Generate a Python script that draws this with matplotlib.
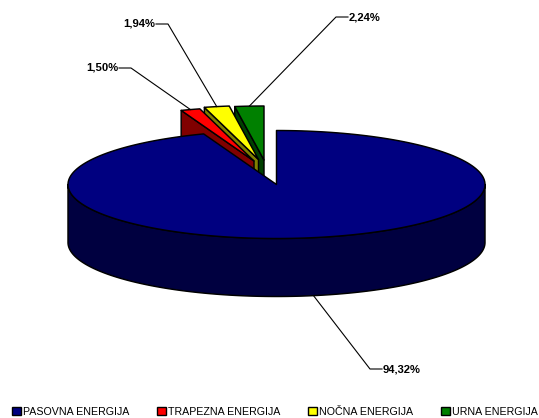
import numpy as np
import matplotlib
matplotlib.use("Agg")
import matplotlib.pyplot as plt
from matplotlib.patches import Polygon, Patch

categories = ["PASOVNA ENERGIJA", "TRAPEZNA ENERGIJA", "NOČNA ENERGIJA", "URNA ENERGIJA"]
values = [94.32, 1.50, 1.94, 2.24]
labels = ["94,32%", "1,50%", "1,94%", "2,24%"]
top_colors = ["#000080", "#FF0000", "#FFFF00", "#008000"]
side_colors = ["#000040", "#800000", "#808000", "#004000"]

# layout of the pseudo-3D pie, in pixels
W, H = 539, 418
CX, CY, RX, RY, DEPTH = 276.5, 184.5, 208.5, 54, 58
offsets = [(0, 0), (-22.5, -23.5), (-18, -25), (-12.5, -24.5)]
label_pos = [(383, 369), (118, 68), (155, 24), (349, 17)]
elbow_dir = [-1, 1, 1, -1]

plt.rcParams["font.family"] = ["Liberation Sans", "DejaVu Sans"]
fig = plt.figure(figsize=(W / 100, H / 100), dpi=100)
ax = fig.add_axes([0, 0, 1, 1])
ax.set_xlim(0, W)
ax.set_ylim(H, 0)
ax.axis("off")

shares = np.array(values) / sum(values) * 360
ends = np.cumsum(shares)
starts = ends - shares


def arc(a0, a1, cx, cy, n=200):
    t = np.radians(np.linspace(a0, a1, n))
    return np.column_stack([cx + RX * np.sin(t), cy - RY * np.cos(t)])


def draw_slice(i):
    dx, dy = offsets[i]
    cx, cy = CX + dx, CY + dy
    a = arc(starts[i], ends[i], cx, cy)
    kw = dict(edgecolor="black", linewidth=1.05, joinstyle="round")
    if i > 0:
        # inner radial wall, seen from the front
        p = a[0]
        wall = [p, (cx, cy), (cx, cy + DEPTH), (p[0], p[1] + DEPTH)]
        ax.add_patch(Polygon(wall, facecolor=side_colors[i], **kw))
    else:
        # outer rim on the near half of the pie
        rim = arc(90, 270, cx, cy)
        outline = np.vstack([rim, (rim + [0, DEPTH])[::-1]])
        ax.add_patch(Polygon(outline, facecolor=side_colors[i], **kw))
    ax.add_patch(Polygon(np.vstack([[(cx, cy)], a]), facecolor=top_colors[i], **kw))


for i in [3, 2, 1, 0]:
    draw_slice(i)

# leader lines and value labels
for i in range(4):
    dx, dy = offsets[i]
    mid = (starts[i] + ends[i]) / 2
    anchor = arc(mid, mid, CX + dx, CY + dy, n=1)[0]
    if i == 0:
        anchor = anchor + [0, DEPTH]
    lx, ly = label_pos[i]
    d = elbow_dir[i]
    ax.plot([anchor[0], lx + d * 13, lx + d * 1], [anchor[1], ly, ly], color="black", lw=0.8, zorder=5)
    ax.text(lx, ly, labels[i], ha="right" if d > 0 else "left", va="center",
            fontsize=8.1, fontweight="bold", color="black", zorder=6)

handles = [Patch(facecolor=c, edgecolor="black", linewidth=1.0) for c in top_colors]
ax.legend(handles, categories, ncol=4, loc="lower left", bbox_to_anchor=(10.6 / W, 0.0 / H),
          frameon=False, fontsize=7.7, handlelength=0.85, handleheight=0.85, handletextpad=0.2,
          columnspacing=2.58, borderpad=0.1, borderaxespad=0)

fig.savefig("out.png", dpi=100)
